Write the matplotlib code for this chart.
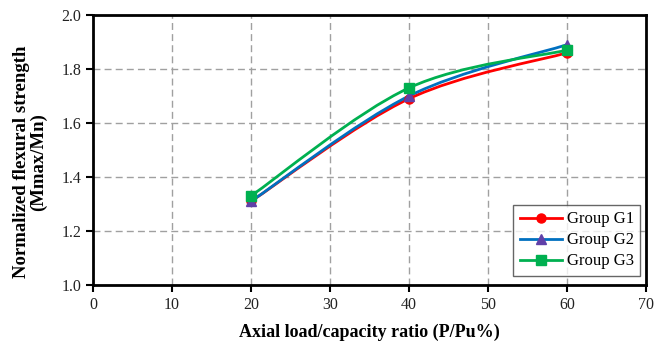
import matplotlib
matplotlib.use("Agg")
import matplotlib.pyplot as plt
import numpy as np
from matplotlib.path import Path
from matplotlib.patches import PathPatch

plt.rcParams['font.family'] = ['Liberation Serif', 'DejaVu Serif']

ratio = [20, 40, 60]
g1 = [1.31, 1.69, 1.86]
g2 = [1.31, 1.70, 1.89]
g3 = [1.33, 1.73, 1.87]
labels = ['Group G1', 'Group G2', 'Group G3']
colors = ['#FF0000', '#0070C0', '#00B050']
face = ['#FF0000', '#6040A8', '#00B050']
markers = ['o', '^', 's']


def smooth_path(x, y):
    # Excel-style smoothed line: cubic Bezier segments through the points
    p = np.column_stack([x, y]).astype(float)
    n = len(p)
    verts = [p[0]]
    codes = [Path.MOVETO]
    for i in range(n - 1):
        p0 = p[i - 1] if i > 0 else p[i]
        p3 = p[i + 2] if i + 2 < n else p[i + 1]
        c1 = p[i] + (p[i + 1] - p0) / 6
        c2 = p[i + 1] - (p3 - p[i]) / 6
        verts += [c1, c2, p[i + 1]]
        codes += [Path.CURVE4] * 3
    return Path(verts, codes)


fig = plt.figure(figsize=(6.54, 3.43), dpi=100)
ax = fig.add_axes([93 / 654, 58 / 343, 553 / 654, 270 / 343])

for ys, lab, c, fc, mk in zip([g1, g2, g3], labels, colors, face, markers):
    ax.add_patch(PathPatch(smooth_path(ratio, ys), fill=False, edgecolor=c, lw=2, zorder=3))
    ax.plot(ratio, ys, linestyle='none', marker=mk, markersize=6.5, color=fc,
            markeredgecolor=fc, zorder=4)
    ax.plot([], [], color=c, lw=2, marker=mk, markersize=6.5, markerfacecolor=fc,
            markeredgecolor=fc, label=lab)

ax.set_xlim(0, 70)
ax.set_ylim(1.0, 2.0)
ax.set_xticks(np.arange(0, 71, 10))
ax.set_yticks(np.arange(1.0, 2.01, 0.2))
ax.set_yticklabels([f'{v:.1f}' for v in np.arange(1.0, 2.01, 0.2)])
ax.grid(True, linestyle=(0, (5, 3)), color='#A0A0A0', lw=1)
ax.set_axisbelow(True)
for s in ax.spines.values():
    s.set_linewidth(2)
    s.set_color('black')
ax.tick_params(axis='both', direction='out', length=5, width=1.5, labelsize=11.5,
               colors='black', labelcolor='#222222')

ax.set_xlabel('Axial load/capacity ratio (P/Pu%)', fontsize=13, fontweight='bold', labelpad=8)
ax.set_ylabel('Normalized flexural strength\n(Mmax/Mn)', fontsize=13.5, fontweight='bold',
              linespacing=1.0)
ax.yaxis.set_label_coords(-0.083, 0.455)

leg = ax.legend(loc='lower right', bbox_to_anchor=(0.99, 0.033), fontsize=12, frameon=True,
                fancybox=False, edgecolor='#404040', handlelength=2.5, handletextpad=0.3,
                borderpad=0.4, labelspacing=0.3, borderaxespad=0)
leg.get_frame().set_linewidth(1)

fig.savefig('out.png', dpi=100)
